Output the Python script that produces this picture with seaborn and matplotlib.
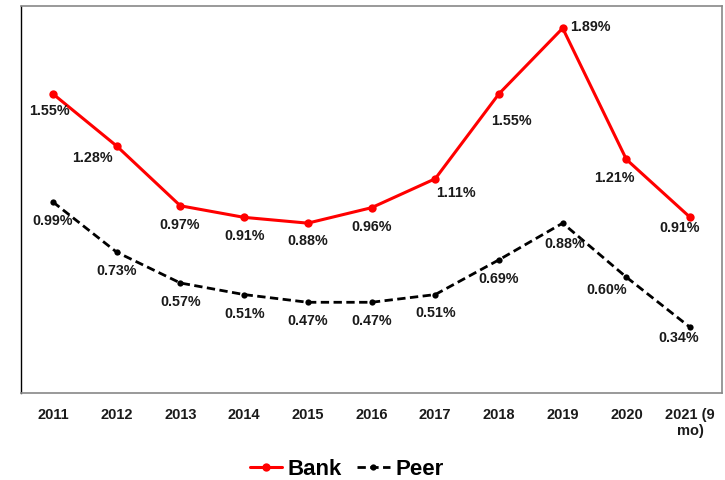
import pandas as pd
import seaborn as sns
import matplotlib.pyplot as plt

years = ["2011", "2012", "2013", "2014", "2015", "2016", "2017", "2018", "2019", "2020", "2021 (9\nmo)"]
bank = [1.55, 1.28, 0.97, 0.91, 0.88, 0.96, 1.11, 1.55, 1.89, 1.21, 0.91]
peer = [0.99, 0.73, 0.57, 0.51, 0.47, 0.47, 0.51, 0.69, 0.88, 0.60, 0.34]

# label offsets in pixels (dx, dy downward)
bank_off = [(-3, 17), (-24, 12), (-1, 19), (1, 19), (0, 18), (0, 19), (21, 14), (12, 27), (28, -1), (-12, 19), (-11, 11)]
peer_off = [(0, 19), (0, 19), (0, 19), (1, 19), (0, 19), (0, 19), (0, 18), (0, 19), (2, 21), (-20, 13), (-11, 11)]

sns.set_style("white")
plt.rcParams['font.family'] = ['Liberation Sans', 'DejaVu Sans']
plt.rcParams['font.weight'] = 'bold'

df = pd.DataFrame({"x": range(len(years)), "Bank": bank, "Peer": peer})

fig = plt.figure(figsize=(7.25, 4.8), dpi=100)
ax = fig.add_axes([21 / 725, 87 / 480, 701 / 725, 387 / 480])

sns.lineplot(data=df, x="x", y="Bank", ax=ax, color="#ff0000", lw=2.2,
             marker="o", markersize=6, markeredgewidth=0, label="Bank")
sns.lineplot(data=df, x="x", y="Peer", ax=ax, color="black", lw=2.0,
             linestyle=(0, (3, 1.6)),
             marker="o", markersize=4.5, markeredgewidth=0, label="Peer")

for i, v in enumerate(bank):
    ax.annotate(f"{v:.2f}%", (i, v), xytext=(bank_off[i][0], -bank_off[i][1]),
                textcoords="offset pixels", ha="center", va="center",
                fontsize=10.3, fontweight="bold", color="#1a1a1a")
for i, v in enumerate(peer):
    ax.annotate(f"{v:.2f}%", (i, v), xytext=(peer_off[i][0], -peer_off[i][1]),
                textcoords="offset pixels", ha="center", va="center",
                fontsize=10.3, fontweight="bold", color="#1a1a1a")

ax.set_xlim(-0.5, 10.5)
ax.set_ylim(0, 2.005)
ax.set_xticks(range(len(years)))
ax.set_xticklabels(years, fontsize=10.5, fontweight="bold", linespacing=1.2,
                   color="#1a1a1a")
ax.set_yticks([])
ax.set_xlabel("")
ax.set_ylabel("")
ax.tick_params(axis="x", direction="in", length=3, color="#888888", pad=11)

for side in ["top", "right", "bottom"]:
    ax.spines[side].set_color("#888888")
    ax.spines[side].set_linewidth(1.2)
ax.spines["left"].set_color("black")
ax.spines["left"].set_linewidth(1.0)

ax.get_legend().remove()
h, l = ax.get_legend_handles_labels()
fig.legend(h, l, loc="center", bbox_to_anchor=(0.478, 0.022), ncol=2, frameon=False,
           prop={"size": 16, "weight": "bold"}, handlelength=1.45, columnspacing=0.7,
           handletextpad=0.25)
for t in fig.legends[0].get_texts():
    t.set_color("black")

fig.savefig("out.png", dpi=100)
